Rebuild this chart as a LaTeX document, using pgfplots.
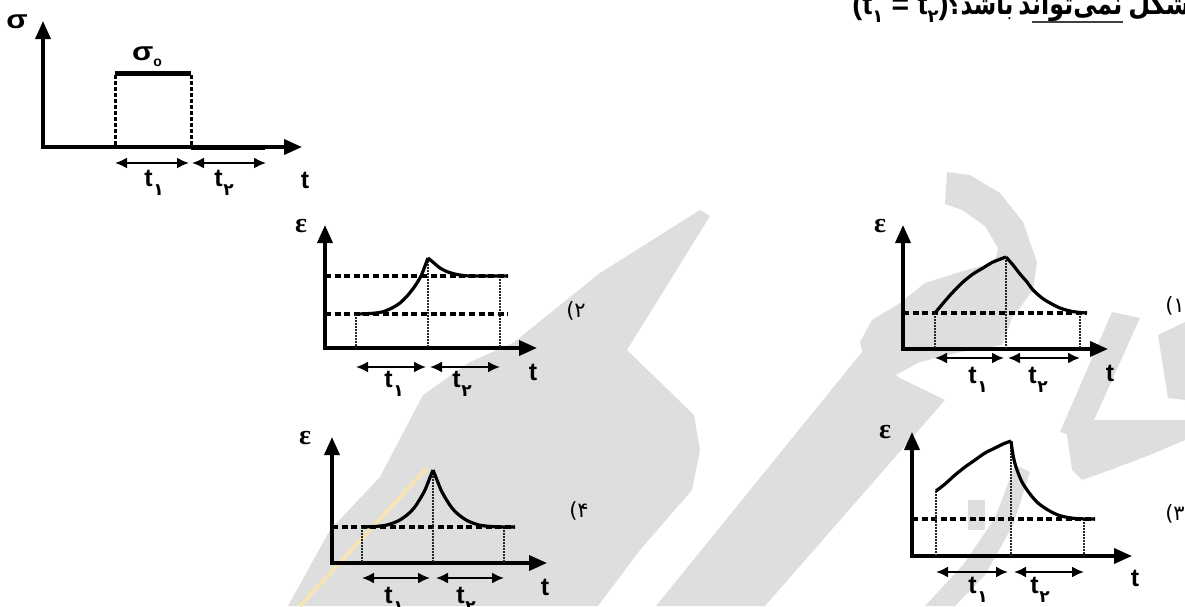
\documentclass[border=0pt]{standalone}
\usepackage{fontspec}
\usepackage{pgfplots}
\pgfplotsset{compat=1.18}
\usetikzlibrary{arrows.meta}
\setmainfont{Liberation Sans}
\newfontfamily\grk{Liberation Serif}
\newfontfamily\dv{DejaVu Sans}
\newfontfamily\fa[Script=Arabic]{DejaVu Sans}

\definecolor{wm}{RGB}{222,222,222}
\definecolor{wmy}{RGB}{247,228,180}

% t with a Persian subscript digit
\newcommand{\tsub}[1]{t\kern0.4pt\raisebox{-4.5pt}{\dv\bfseries\fontsize{8.5}{9}\selectfont #1}}
% a Persian word squeezed to a given width (1px = 0.5pt)
\newcommand{\faw}[2]{\resizebox{#1}{\height}{\fa\bfseries\fontsize{15}{15}\selectfont #2}}

\tikzset{
  ax/.style={line width=1.8pt, line join=miter,
    {Triangle[length=9pt,width=7.5pt]}-{Triangle[length=9pt,width=7.5pt]}},
  dsh/.style={line width=1.6pt, dash pattern=on 3pt off 1.8pt},
  sdsh/.style={line width=1.5pt, dash pattern=on 2pt off 1pt},
  dtt/.style={line width=1.2pt, black!85, dash pattern=on 0.8pt off 0.7pt},
  crv/.style={line width=1.6pt, line join=round, smooth},
  dbl/.style={line width=1pt,
    {Latex[length=6pt,width=5.5pt]}-{Latex[length=6pt,width=5.5pt]}},
  lab/.style={font=\fontsize{12.5}{13}\selectfont\bfseries},
  eps/.style={font=\grk\bfseries\fontsize{14}{14}\selectfont},
  opt/.style={font=\dv\fontsize{10.5}{11}\selectfont},
  ttl/.style={anchor=base west, inner sep=0pt},
}

\begin{document}
\begin{tikzpicture}
\begin{axis}[
    width=592.5pt, height=303pt, scale only axis,
    xmin=0, xmax=1185, ymin=0, ymax=606, y dir=reverse,
    hide axis, clip=true,
    ]
\coordinate (SW) at (axis cs:0,606);
\coordinate (NE) at (axis cs:1185,0);

% watermark (light grey shapes)
\addplot[fill=wm, draw=none] coordinates {(288,606) (330,530) (380,477) (423,395) (470,362) (513,343) (600,273) (700,210) (710,216) (627,350) (694,415) (700,450) (692,490) (640,550) (598,606)} -- cycle;
\addplot[fill=wm, draw=none] coordinates {(656,606) (765,606) (945,400) (900,378) (862,352)} -- cycle;
\addplot[fill=wm, draw=none] coordinates {(947,172) (970,175) (1000,193) (1023,222) (1037,262) (1033,290) (1012,318) (1002,345) (960,352) (920,362) (890,378) (866,366) (860,342) (872,320) (900,303) (925,283) (960,272) (995,262) (998,248) (985,226) (962,210) (945,204)} -- cycle;
\addplot[fill=wm, draw=none] coordinates {(1112,312) (1140,318) (1085,440) (1060,432)} -- cycle;
\addplot[fill=wm, draw=none] coordinates {(1065,420) (1185,420) (1185,440) (1150,455) (1110,470) (1082,480) (1072,470)} -- cycle;
\addplot[fill=wm, draw=none] coordinates {(1158,335) (1185,322) (1185,400) (1168,398)} -- cycle;
\addplot[fill=wm, draw=none] coordinates {(1015,465) (1030,472) (1013,525) (985,575) (955,606) (925,606) (963,565) (995,518)} -- cycle;
\addplot[fill=wm, draw=none] coordinates {(968,500) (985,500) (985,530) (968,530)} -- cycle;
\addplot[line width=2pt, wmy] coordinates {(300,606) (427,468)};

% title line (cut at the top); Persian words placed right to left
\node[ttl, font=\fontsize{15}{15}\selectfont\bfseries] at (852,14)
  {(t\raisebox{-4pt}{\dv\fontsize{9}{9}\selectfont ۱} = t\raisebox{-4pt}{\dv\fontsize{9}{9}\selectfont ۲})};
\node[ttl] at (947,14) {\faw{33pt}{باشد؟}};
\node[ttl] at (1018,14) {\faw{52pt}{نمی‌تواند}};
\node[ttl] at (1128,14) {\faw{31pt}{شکل}};
\addplot[line width=1pt, black!75] coordinates {(1032,22) (1123,22)};

% stress history
\addplot[ax] coordinates {(43,21) (43,147) (302,147)};
\addplot[line width=2.5pt] coordinates {(115,73) (191,73)};
\addplot[line width=2.5pt] coordinates {(191,147) (265,147)};
\addplot[sdsh] coordinates {(115,75) (115,147)};
\addplot[sdsh] coordinates {(191,75) (191,147)};
\addplot[dbl] coordinates {(115,163) (189,163)};
\addplot[dbl] coordinates {(192,163) (266,163)};
\node[font=\bfseries\fontsize{13}{13}\selectfont] at (17,22) {\scalebox{1.2}[1]{σ}};
\node[font=\bfseries\fontsize{13}{13}\selectfont] at (147,57)
  {\scalebox{1.2}[1]{σ}\raisebox{-3pt}{\fontsize{7}{7}\selectfont o}};
\node[lab] at (154,183) {\tsub{۱}};
\node[lab] at (224,183) {\tsub{۲}};
\node[lab] at (305,180) {t};

% option 1
\addplot[ax] coordinates {(903,225) (903,349) (1108,349)};
\addplot[dsh] coordinates {(903,313) (1087,313)};
\addplot[dtt] coordinates {(935,313) (935,349)};
\addplot[dtt] coordinates {(1006,257) (1006,349)};
\addplot[dtt] coordinates {(1080,313) (1080,349)};
\addplot[crv] coordinates {(935,313) (945,301) (953,292) (963,282) (973,274) (983,268) (993,262) (1006,257)};
\addplot[crv] coordinates {(1006,257) (1013,265) (1020,274) (1027,282) (1033,290) (1042,298) (1050,303) (1060,308) (1070,311) (1080,312.5) (1087,313)};
\addplot[dbl] coordinates {(935,358) (1004,358)};
\addplot[dbl] coordinates {(1008,358) (1080,358)};
\node[eps] at (880,226) {ε};
\node[lab] at (978,380) {\tsub{۱}};
\node[lab] at (1038,380) {\tsub{۲}};
\node[lab] at (1110,373) {t};
\node[opt] at (1175,306) {(۱};

% option 2
\addplot[ax] coordinates {(325,225) (325,348) (537,348)};
\addplot[dsh] coordinates {(325,276) (508,276)};
\addplot[dsh] coordinates {(325,314) (508,314)};
\addplot[dtt] coordinates {(356,314) (356,348)};
\addplot[dtt] coordinates {(428,258) (428,348)};
\addplot[dtt] coordinates {(500,276) (500,348)};
\addplot[crv] coordinates {(356,314) (370,313.5) (382,312) (392,308) (400,303) (408,295) (415,286) (421,276) (425,266) (428,258)};
\addplot[crv] coordinates {(428,258) (434,263) (440,268) (448,272) (457,274.5) (466,275.8) (475,276) (508,276)};
\addplot[dbl] coordinates {(356,367) (426,367)};
\addplot[dbl] coordinates {(430,367) (500,367)};
\node[eps] at (301,226) {ε};
\node[lab] at (394,384) {\tsub{۱}};
\node[lab] at (462,384) {\tsub{۲}};
\node[lab] at (533,372) {t};
\node[opt] at (576,311) {(۲};

% option 3
\addplot[ax] coordinates {(912,432) (912,556) (1132,556)};
\addplot[dsh] coordinates {(912,519) (1095,519)};
\addplot[dtt] coordinates {(936,491) (936,556)};
\addplot[dtt] coordinates {(1011,441) (1011,556)};
\addplot[dtt] coordinates {(1084,519) (1084,556)};
\addplot[crv] coordinates {(936,491) (945,484) (955,475) (965,467) (975,460) (985,453) (995,448) (1003,444) (1011,441)};
\addplot[crv] coordinates {(1011,441) (1013,455) (1016,467) (1022,482) (1030,494) (1038,503) (1048,510) (1058,515) (1068,517.5) (1078,518.7) (1095,519)};
\addplot[dbl] coordinates {(936,572) (1008,572)};
\addplot[dbl] coordinates {(1014,572) (1084,572)};
\node[eps] at (885,432) {ε};
\node[lab] at (978,590) {\tsub{۱}};
\node[lab] at (1040,590) {\tsub{۲}};
\node[lab] at (1135,578) {t};
\node[opt] at (1175,514) {(۳};

% option 4
\addplot[ax] coordinates {(332,437) (332,563) (547,563)};
\addplot[dsh] coordinates {(332,527) (515,527)};
\addplot[dtt] coordinates {(362,527) (362,563)};
\addplot[dtt] coordinates {(433,470) (433,563)};
\addplot[dtt] coordinates {(504,527) (504,563)};
\addplot[crv] coordinates {(362,527) (375,526.5) (387,525) (398,521) (407,515) (414,508) (420,499) (425,490) (429,480) (433,470)};
\addplot[crv] coordinates {(433,470) (437,480) (441,490) (446,499) (452,508) (459,515) (468,521) (479,525) (491,526.5) (504,527) (515,527)};
\addplot[dbl] coordinates {(362,578) (430,578)};
\addplot[dbl] coordinates {(436,578) (504,578)};
\node[eps] at (305,438) {ε};
\node[lab] at (394,600) {\tsub{۱}};
\node[lab] at (466,600) {\tsub{۲}};
\node[lab] at (545,587) {t};
\node[opt] at (579,511) {(۴};
\end{axis}
\pgfresetboundingbox
\path[use as bounding box] (SW) rectangle (NE);
\end{tikzpicture}
\end{document}
